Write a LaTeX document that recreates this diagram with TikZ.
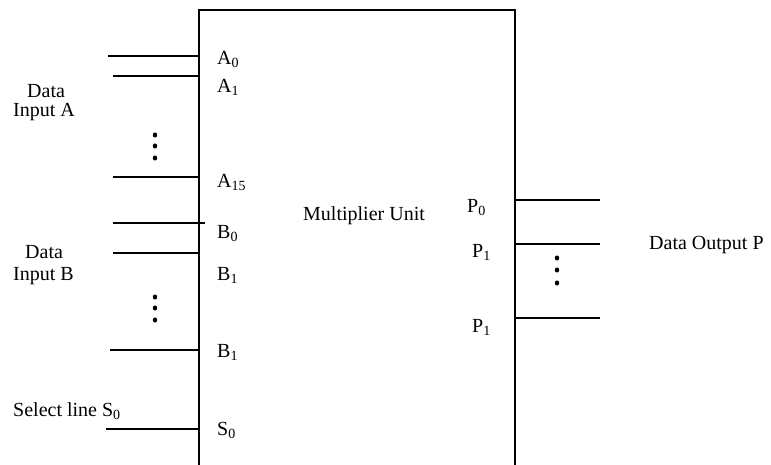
\documentclass[tikz,border=0pt]{standalone}
\usepackage{fontspec}
\setmainfont{Liberation Serif}
\usetikzlibrary{positioning}

\begin{document}
\begin{tikzpicture}[x=1pt,y=-1pt,
    every node/.style={font=\fontsize{20}{24}\selectfont},
    wire/.style={line width=1.5pt},
    pin/.style={inner sep=0pt,anchor=base west},
    vdot/.style={fill=black}]
  \clip (0,0) rectangle (771,464);

  \node[draw,line width=1.5pt,minimum width=316pt,minimum height=460pt] (mul) at (357,240) {};
  \node[pin] (title) at (303,220) {Multiplier Unit};

  % input pins
  \foreach \nm/\x/\y in {a0/108/56,a1/113/76,a15/113/177,b0/113/223,b1/113/253,bn/110/350,s0/106/429}
    \coordinate (\nm) at (\x,\y);
  \foreach \nm in {a0,a1,a15,b1,bn,s0}
    \draw[wire] (\nm) -- (\nm -| mul.west);
  \draw[wire] (b0) -- ++(92,0);

  % output pins
  \foreach \nm/\y in {p0/200,p1/244,pn/318}
    \coordinate (\nm) at (600,\y);
  \foreach \nm in {p0,p1,pn}
    \draw[wire] (mul.east |- \nm) -- (\nm);

  \foreach \nm/\x/\y/\t in {la0/217/64/A\textsubscript{0},la1/217/92/A\textsubscript{1},
      la15/217/187/A\textsubscript{15},lb0/217/238/B\textsubscript{0},lb1/217/280/B\textsubscript{1},
      lbn/217/357/B\textsubscript{1},ls0/217/435/S\textsubscript{0},
      lp0/467/212/P\textsubscript{0},lp1/472/257/P\textsubscript{1},lpn/472/332/P\textsubscript{1}}
    \node[pin] (\nm) at (\x,\y) {\t};

  \node[pin] (dataA) at (27,97) {Data};
  \node[pin] (inA) at (13,116) {Input A};
  \node[pin] (dataB) at (25,258) {Data};
  \node[pin] (inB) at (13,280) {Input B};
  \node[pin] (sel) at (13,416) {Select line S\textsubscript{0}};
  \node[pin] (outP) at (649,249) {Data Output P};

  % ellipsis dots
  \foreach \x/\y in {155/135,155/146,155/158,155/297,155/308,155/320,557/258,557/270,557/283}
    \fill[vdot] (\x,\y) ellipse[x radius=2.2pt,y radius=2.6pt];
\end{tikzpicture}
\end{document}
